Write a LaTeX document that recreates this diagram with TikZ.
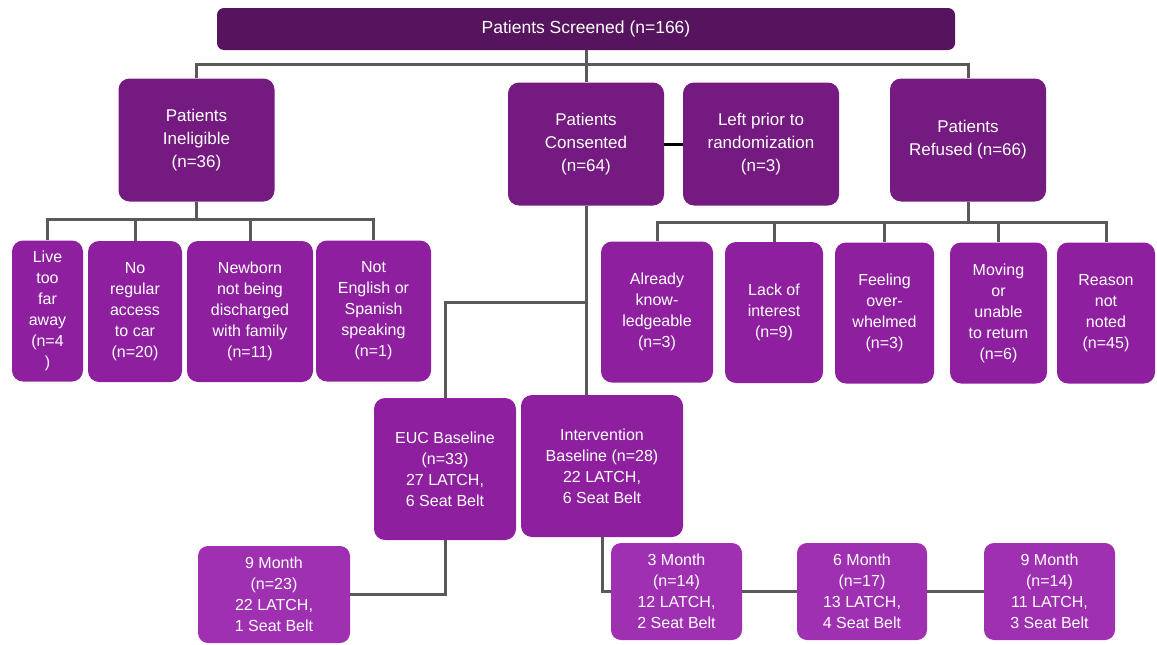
\documentclass[tikz,border=0pt]{standalone}
\usepackage{fontspec}
\setmainfont{Liberation Sans}
\definecolor{darkplum}{HTML}{56145E}
\definecolor{midplum}{HTML}{741A80}
\definecolor{lowplum}{HTML}{8E20A0}
\definecolor{lightplum}{HTML}{A030B2}
\definecolor{linegray}{HTML}{595959}
\begin{document}
\begin{tikzpicture}[x=1pt,y=-1pt,
    box/.style={rounded corners=11pt, text=white, align=center, inner sep=0pt},
    topbox/.style={box, fill=darkplum, rounded corners=7pt, font=\fontsize{17.5}{23}\selectfont},
    tierbox/.style={box, fill=midplum, minimum width=156pt, minimum height=123pt, font=\fontsize{17}{23}\selectfont},
    reasonbox/.style={box, fill=lowplum, minimum height=141pt, font=\fontsize{16}{21}\selectfont},
    armbox/.style={box, fill=lowplum, minimum height=142pt, font=\fontsize{16}{21}\selectfont},
    followbox/.style={box, fill=lightplum, minimum height=97pt, rounded corners=10pt, font=\fontsize{16}{21}\selectfont},
    link/.style={draw=linegray, line width=3pt}]
    \useasboundingbox (0,0) rectangle (1157,645);
		% screening and first split
		\node[topbox, minimum width=738pt, minimum height=42pt] (screened) at (586,29) {Patients Screened (n=166)};
		\node[tierbox] (inelig) at (196.5,140) {Patients\\Ineligible\\(n=36)};
		\node[tierbox] (consent) at (586,144) {Patients\\Consented\\(n=64)};
		\node[tierbox] (leftprior) at (761,144) {Left prior to\\randomization\\(n=3)};
		\node[tierbox] (refused) at (968,140) {Patients\\Refused (n=66)};
		% reasons for ineligibility
		\node[reasonbox, minimum width=71pt] (live) at (47.5,311) {Live\\too\\far\\away\\(n=4\\)};
		\node[reasonbox, minimum width=94pt] (noreg) at (135,311.5) {No\\regular\\access\\to car\\(n=20)};
		\node[reasonbox, minimum width=126pt] (newborn) at (250,311.5) {Newborn\\not being\\discharged\\with family\\(n=11)};
		\node[reasonbox, minimum width=115pt] (noteng) at (373.5,311) {Not\\English or\\Spanish\\speaking\\(n=1)};
		% reasons for refusal
		\node[reasonbox, minimum width=112pt] (already) at (657,312) {Already\\know-\\ledgeable\\(n=3)};
		\node[reasonbox, minimum width=98pt] (lack) at (774,312.5) {Lack of\\interest\\(n=9)};
		\node[reasonbox, minimum width=99pt] (feeling) at (884.5,313) {Feeling\\over-\\whelmed\\(n=3)};
		\node[reasonbox, minimum width=97pt] (moving) at (998.5,313) {Moving\\or\\unable\\to return\\(n=6)};
		\node[reasonbox, minimum width=98pt] (reason) at (1106,313) {Reason\\not\\noted\\(n=45)};
		% study arms
		\node[armbox, minimum width=142pt] (euc) at (445,469) {EUC Baseline\\(n=33)\\27 LATCH,\\6 Seat Belt};
		\node[armbox, minimum width=162pt] (interv) at (602,466) {Intervention\\Baseline (n=28)\\22 LATCH,\\6 Seat Belt};
		% follow-up visits
		\node[followbox, minimum width=152pt] (euc9) at (274,594.5) {9 Month\\(n=23)\\22 LATCH,\\1 Seat Belt};
		\node[followbox, minimum width=131pt] (int3) at (676.5,591.5) {3 Month\\(n=14)\\12 LATCH,\\2 Seat Belt};
		\node[followbox, minimum width=130pt] (int6) at (862,591.5) {6 Month\\(n=17)\\13 LATCH,\\4 Seat Belt};
		\node[followbox, minimum width=131pt] (int9) at (1049.5,591.5) {9 Month\\(n=14)\\11 LATCH,\\3 Seat Belt};
		% connectors
		\draw[link] (screened.south) -- (consent.north);
		\draw[link] (inelig.north) -- ++(0,-14) -| (refused.north);
		\draw[line width=3pt] (consent.east) -- (leftprior.west);
		\draw[link] (inelig.south) -- ++(0,18) coordinate (ibus);
		\foreach \c in {live,noreg,newborn,noteng}
			\draw[link] (ibus) -| (\c.north);
		\draw[link] (refused.south) -- ++(0,21) coordinate (rbus);
		\foreach \c in {already,lack,feeling,moving,reason}
			\draw[link] (rbus) -| (\c.north);
		\draw[link] (consent.south) -- (consent.south |- interv.north);
		\path (consent.south) ++(0,97) coordinate (cbus);
		\draw[link] (cbus) -| (euc.north);
		\draw[link] (euc.south) |- (euc9.east);
		\draw[link] (interv.south) |- (int3.west);
		\draw[link] (int3.east) -- (int6.west);
		\draw[link] (int6.east) -- (int9.west);
	\end{tikzpicture}
\end{document}
